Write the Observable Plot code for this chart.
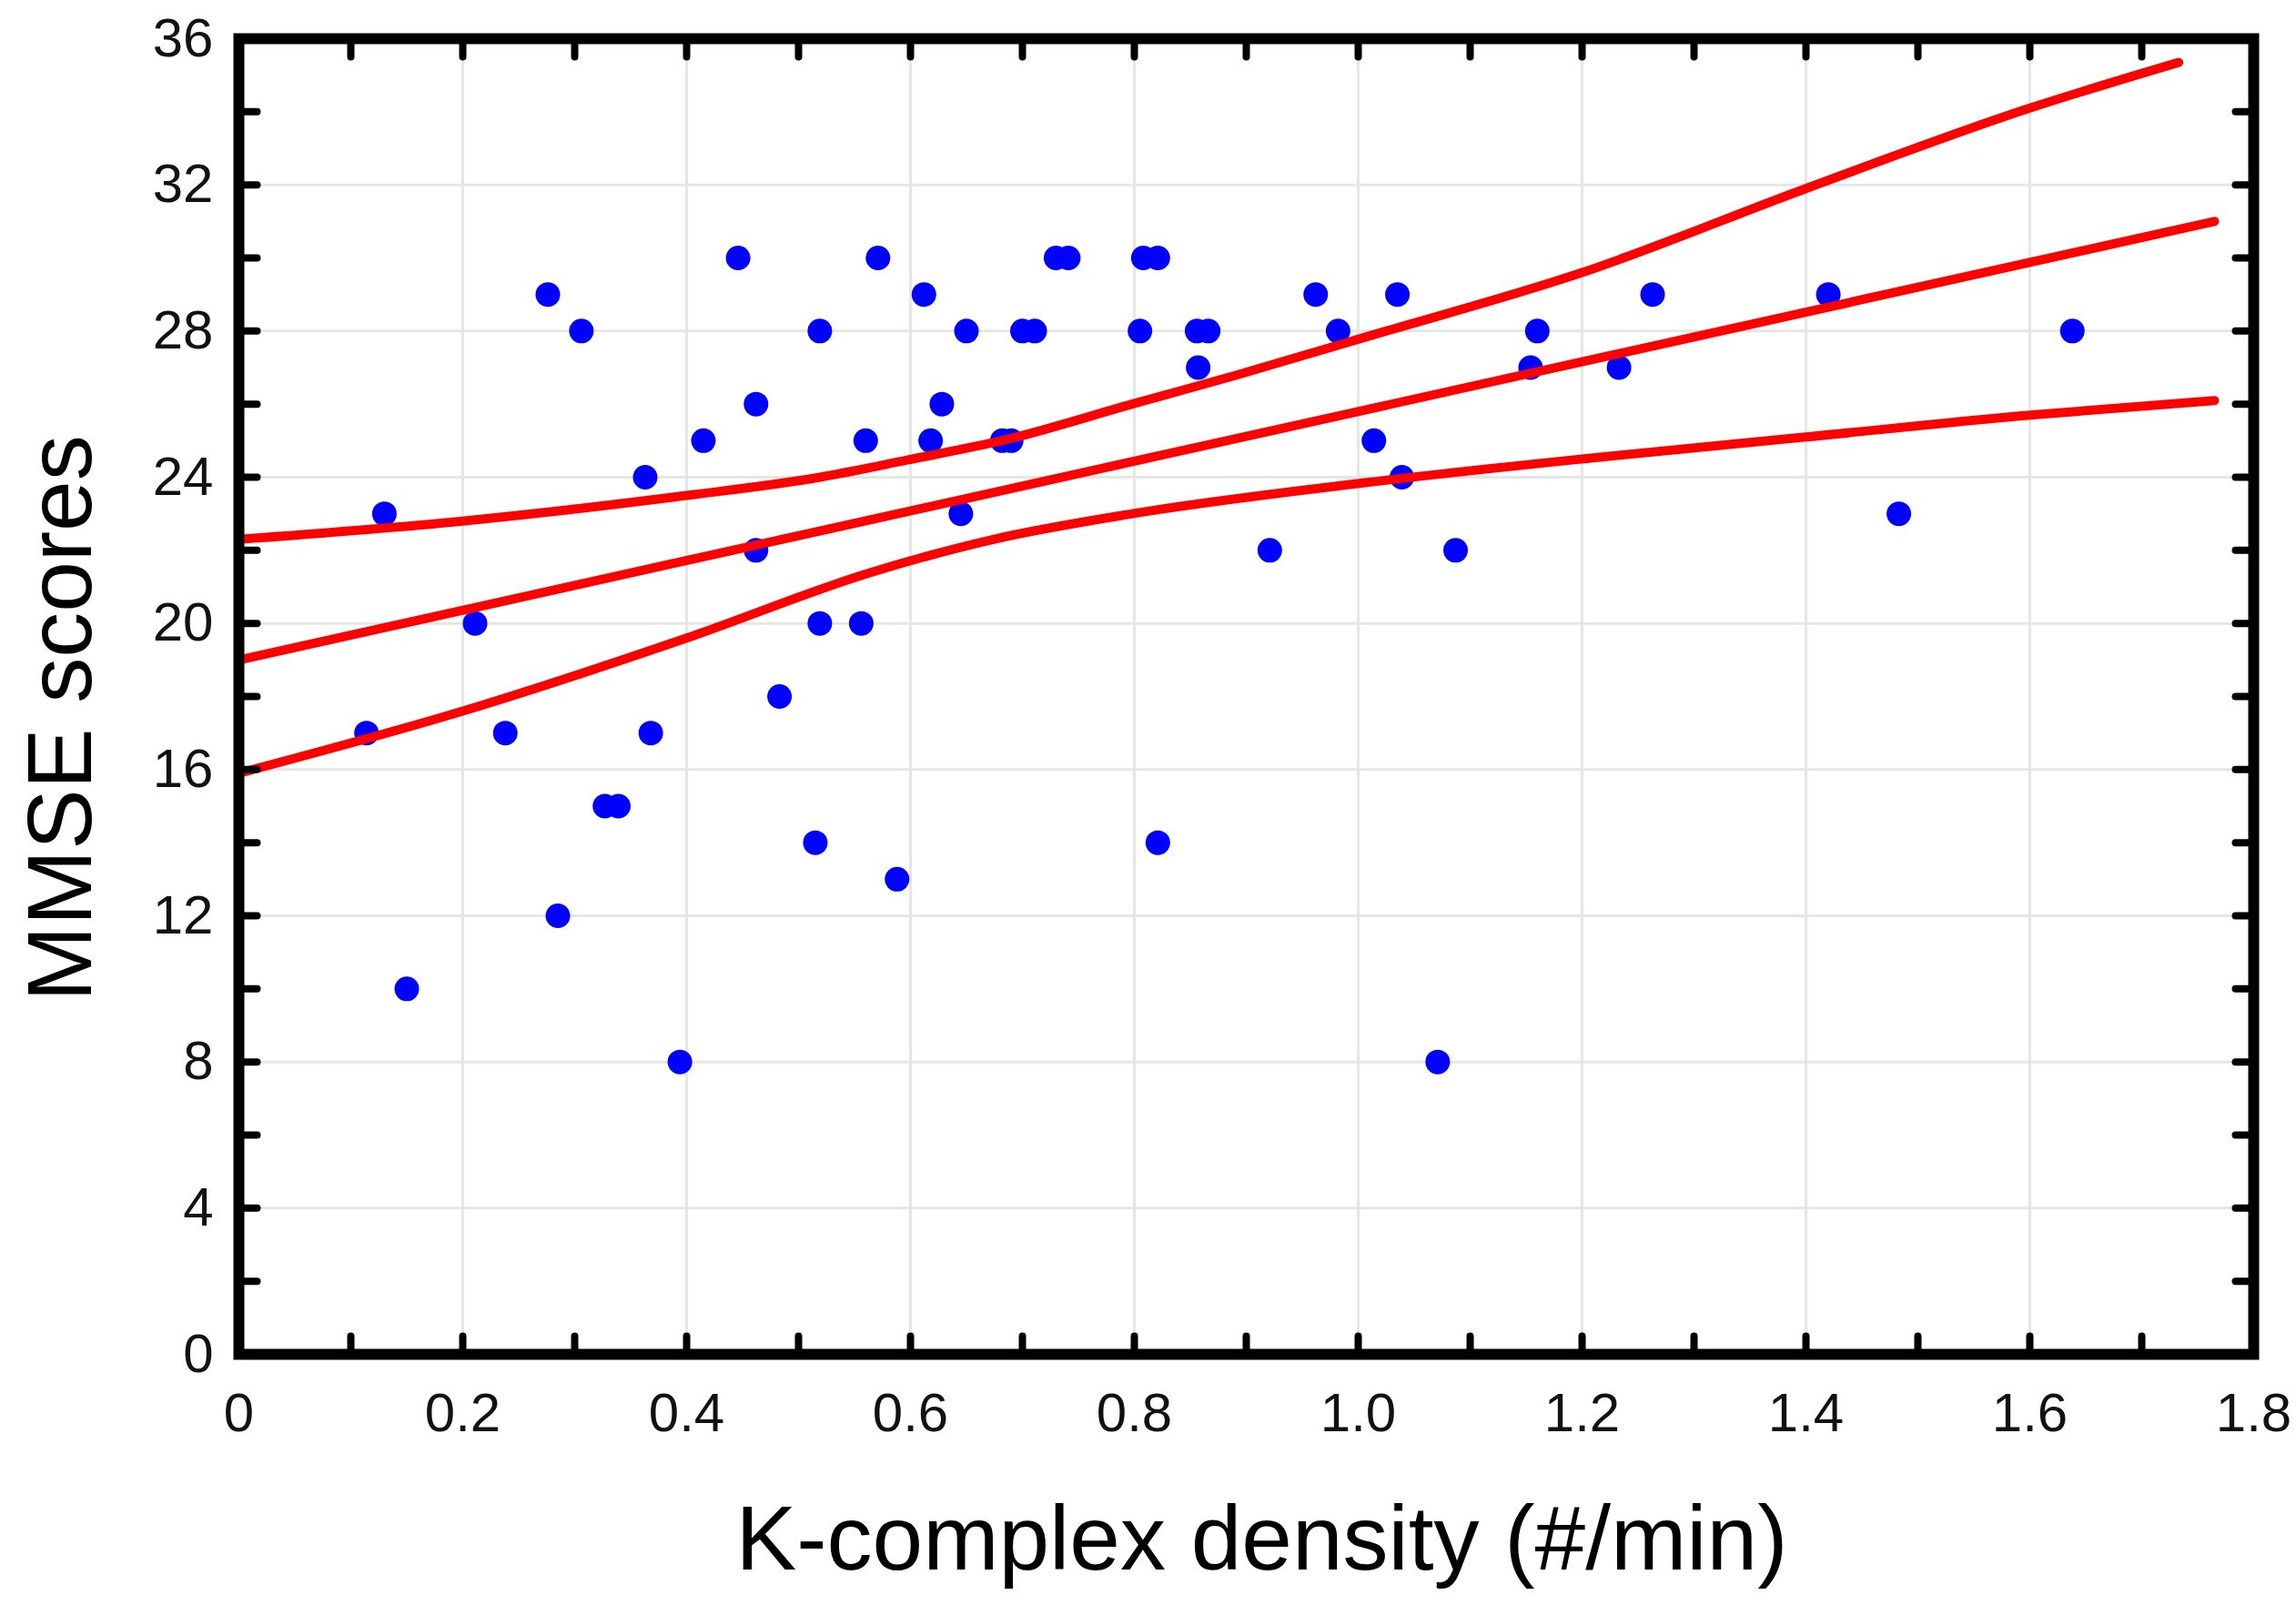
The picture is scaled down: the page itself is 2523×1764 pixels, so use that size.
<!DOCTYPE html>
<html>
<head>
<meta charset="utf-8">
<script src="https://cdn.jsdelivr.net/npm/d3@7"></script>
<script src="https://cdn.jsdelivr.net/npm/@observablehq/plot@0.6"></script>
<style>
  html, body { margin: 0; padding: 0; background: #fff; overflow: hidden; }
</style>
</head>
<body>
<div id="chart"></div>
<script>
// ---- data ----
const kcDensity = [0.114,0.130,0.150,0.211,0.238,0.276,0.285,0.306,0.327,0.339,0.363,0.368,0.394,0.415,0.446,0.462,0.462,0.483,0.515,0.519,0.519,0.556,0.560,0.571,0.588,0.612,0.618,0.628,0.645,0.650,0.682,0.690,0.700,0.711,0.730,0.741,0.805,0.808,0.821,0.821,0.857,0.856,0.866,0.921,0.962,0.982,1.014,1.035,1.039,1.071,1.087,1.154,1.160,1.233,1.263,1.420,1.483,1.638];
const mmse      = [17,23,10,20,17,29,12,28,15,15,24,17,8,25,30,26,22,18,14,28,20,20,25,30,13,29,25,26,23,28,25,25,28,28,30,30,28,30,30,14,27,28,28,22,29,28,25,29,24,8,22,27,28,27,29,29,23,28];

const fitX   = [0.0, 1.765];
const fitY   = [19.0, 31.0];
const upperX = [0.0, 0.2, 0.4, 0.519, 0.597, 0.687, 0.798, 0.892, 1.006, 1.2, 1.4, 1.6, 1.733];
const upperY = [22.3, 22.8, 23.5, 24.0, 24.47, 25.04, 26.0, 26.8, 27.83, 29.6, 31.9, 34.1, 35.35];
const lowerX = [0.0, 0.2, 0.4, 0.565, 0.674, 0.798, 1.006, 1.2, 1.4, 1.6, 1.765];
const lowerY = [15.9, 17.6, 19.6, 21.4, 22.3, 23.0, 23.85, 24.5, 25.1, 25.7, 26.1];

const xMajorTicks = [0, 0.2, 0.4, 0.6, 0.8, 1.0, 1.2, 1.4, 1.6, 1.8];
const xMinorTicks = [0.1, 0.2, 0.3, 0.4, 0.5, 0.6, 0.7, 0.8, 0.9, 1.0, 1.1, 1.2, 1.3, 1.4, 1.5, 1.6, 1.7];
const yMajorTicks = [0, 4, 8, 12, 16, 20, 24, 28, 32, 36];
const yMinorTicks = [2, 4, 6, 8, 10, 12, 14, 16, 18, 20, 22, 24, 26, 28, 30, 32, 34];

const xTitle = "K-complex density (#/min)";
const yTitle = "MMSE scores";

// ---- build tables ----
const points = kcDensity.map((x, i) => ({x, y: mmse[i]}));
const fit = fitX.map((x, i) => ({x, y: fitY[i]}));
const upper = upperX.map((x, i) => ({x, y: upperY[i]}));
const lower = lowerX.map((x, i) => ({x, y: lowerY[i]}));

const tickShape = {draw(context, l) { context.moveTo(0, 0); context.lineTo(0, -l); }};
const tickLen = 20, tickW = 8;
const red = "#ff0000";
const lineW = 10;
const font = "'Liberation Sans', Arial, Helvetica, sans-serif";

const chart = Plot.plot({
  width: 2523,
  height: 1764,
  marginLeft: 262,
  marginRight: 47,
  marginTop: 42,
  marginBottom: 276,
  style: {fontFamily: font, background: "#fff", color: "#000"},
  x: {domain: [0, 1.8]},
  y: {domain: [0, 36]},
  marks: [
    Plot.gridX(xMajorTicks.slice(1, -1), {stroke: "#e6e6e6", strokeOpacity: 1, strokeWidth: 3}),
    Plot.gridY(yMajorTicks.slice(1, -1), {stroke: "#e6e6e6", strokeOpacity: 1, strokeWidth: 3}),
    Plot.axisX({ticks: xMajorTicks, tickFormat: d => d === 0 ? "0" : d.toFixed(1), tickSize: 0, tickPadding: 42, fontSize: 60, label: null, fill: "#111"}),
    Plot.axisY({ticks: yMajorTicks, tickSize: 0, tickPadding: 28, fontSize: 60, label: null, fill: "#111"}),
    Plot.dot(points, {x: "x", y: "y", r: 13.5, fill: "#0000ff", stroke: "none"}),
    Plot.line(lower, {x: "x", y: "y", stroke: red, strokeWidth: lineW, curve: "monotone-x"}),
    Plot.line(fit, {x: "x", y: "y", stroke: red, strokeWidth: lineW}),
    Plot.line(upper, {x: "x", y: "y", stroke: red, strokeWidth: lineW, curve: "monotone-x"}),
    // inward ticks on all four sides
    Plot.vector(xMinorTicks, {x: d => d, frameAnchor: "bottom", length: tickLen, rotate: 0, anchor: "start", shape: tickShape, stroke: "#000", strokeWidth: tickW}),
    Plot.vector(xMinorTicks, {x: d => d, frameAnchor: "top", length: tickLen, rotate: 180, anchor: "start", shape: tickShape, stroke: "#000", strokeWidth: tickW}),
    Plot.vector(yMinorTicks, {y: d => d, frameAnchor: "left", length: tickLen, rotate: 90, anchor: "start", shape: tickShape, stroke: "#000", strokeWidth: tickW}),
    Plot.vector(yMinorTicks, {y: d => d, frameAnchor: "right", length: tickLen, rotate: -90, anchor: "start", shape: tickShape, stroke: "#000", strokeWidth: tickW}),
    Plot.frame({stroke: "#000", strokeWidth: 12}),
    Plot.text([xTitle], {frameAnchor: "bottom", dx: 17, dy: 236, lineAnchor: "bottom", fontSize: 100, fill: "#000"}),
    Plot.text([yTitle], {frameAnchor: "left", textAnchor: "middle", dx: -195, dy: 24, rotate: -90, fontSize: 100, fill: "#000"})
  ]
});
document.getElementById("chart").appendChild(chart);
</script>
</body>
</html>
